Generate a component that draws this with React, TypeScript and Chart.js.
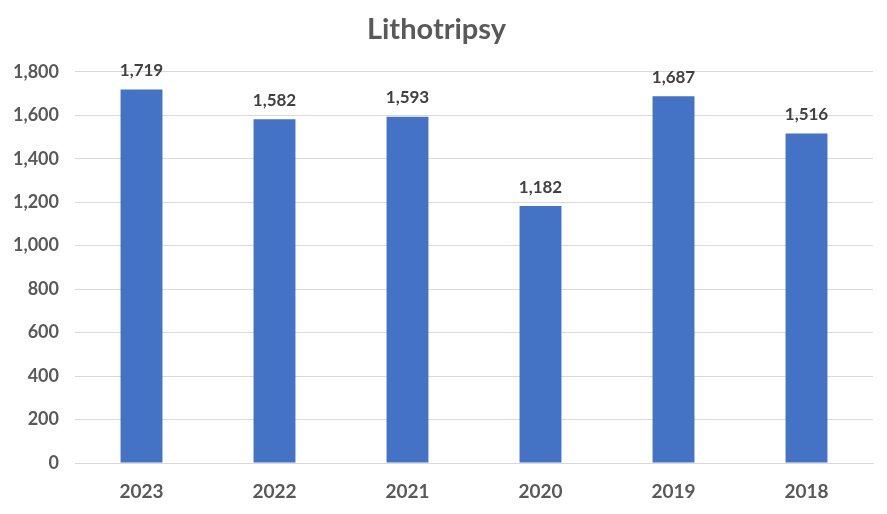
import React, { useEffect, useRef } from "react";
import { Chart, registerables } from "chart.js";

Chart.register(...registerables);

const categories = ["2023", "2022", "2021", "2020", "2019", "2018"];
const values = [1719, 1582, 1593, 1182, 1687, 1516];
const yTicks = [0, 200, 400, 600, 800, 1000, 1200, 1400, 1600, 1800];
const titleText = "Lithotripsy";

const FONT = "Lato, 'Open Sans', sans-serif";

const dataLabels = {
  id: "dataLabels",
  afterDatasetsDraw(chart: any) {
    const ctx = chart.ctx;
    const meta = chart.getDatasetMeta(0);
    ctx.save();
    ctx.font = `bold 17px ${FONT}`;
    ctx.fillStyle = "#404040";
    ctx.textAlign = "center";
    ctx.textBaseline = "middle";
    meta.data.forEach((bar: any, i: number) => {
      ctx.fillText(values[i].toLocaleString("en-US"), bar.x, bar.y - 19);
    });
    ctx.restore();
  },
};

export default function App() {
  const ref = useRef<HTMLCanvasElement>(null);
  useEffect(() => {
    document.body.style.margin = "0";
    const chart = new Chart(ref.current!, {
      type: "bar",
      data: {
        labels: categories,
        datasets: [
          {
            data: values,
            backgroundColor: "#4472C4",
            barPercentage: 0.63,
            categoryPercentage: 0.5,
          },
        ],
      },
      options: {
        animation: false,
        responsive: false,
        layout: { padding: { left: 0, right: 14, top: 0, bottom: 0 } },
        plugins: {
          legend: { display: false },
          tooltip: { enabled: false },
          title: {
            display: true,
            text: titleText,
            color: "#595959",
            font: { family: FONT, size: 29, weight: "bold" },
            padding: { top: 12, bottom: 25 },
          },
        },
        scales: {
          x: {
            grid: { display: false, drawTicks: false },
            border: { display: true, color: "#D9D9D9" },
            ticks: {
              color: "#595959",
              font: { family: FONT, size: 19, weight: "bold" },
              padding: 17,
            },
            afterFit: (s: any) => {
              s.height = 51;
            },
          },
          y: {
            min: 0,
            max: 1800,
            afterBuildTicks: (s: any) => {
              s.ticks = yTicks.map((v) => ({ value: v }));
            },
            grid: { color: "#D9D9D9", drawTicks: false },
            border: { display: false },
            ticks: {
              color: "#595959",
              font: { family: FONT, size: 18, weight: "bold" },
              padding: 16,
              callback: (v: any) => Number(v).toLocaleString("en-US"),
            },
            afterFit: (s: any) => {
              s.width = 75;
            },
          },
        },
      },
      plugins: [dataLabels],
    });
    return () => chart.destroy();
  }, []);
  return (
    <div style={{ width: 887, height: 514, position: "relative" }}>
      <canvas ref={ref} width={887} height={514} style={{ width: 887, height: 514 }} />
    </div>
  );
}
